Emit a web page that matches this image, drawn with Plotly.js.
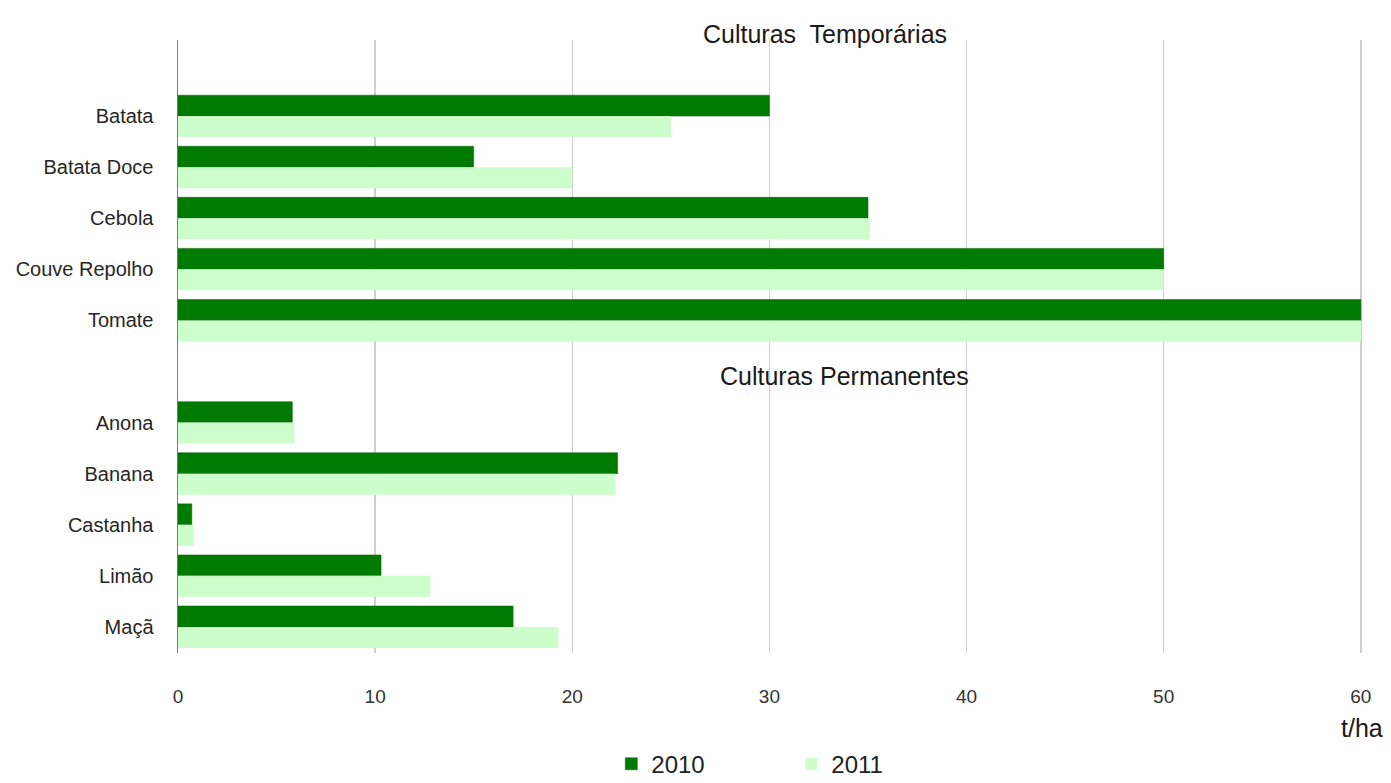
<!DOCTYPE html>
<html>
<head>
<meta charset="utf-8">
<script src="https://cdn.plot.ly/plotly-3.0.1.min.js"></script>
<style>
  html, body { margin: 0; padding: 0; background: #fff; }
  #chart { width: 1391px; height: 783px; }
</style>
</head>
<body>
<div id="chart"></div>
<script>
// Culturas temporárias
const tempCrops = ['Batata', 'Batata Doce', 'Cebola', 'Couve Repolho', 'Tomate'];
const temp2010 = [30, 15, 35, 50, 60];
const temp2011 = [25, 20, 35.1, 50, 60];

// Culturas permanentes
const permCrops = ['Anona', 'Banana', 'Castanha', 'Limão', 'Maçã'];
const perm2010 = [5.8, 22.3, 0.7, 10.3, 17.0];
const perm2011 = [5.9, 22.2, 0.8, 12.8, 19.3];

const spacer = ' ';
const seriesNames = ['2010', '2011'];
const xTicks = [0, 10, 20, 30, 40, 50, 60];

const categories = tempCrops.concat([spacer], permCrops);
const vals2010 = temp2010.concat([null], perm2010);
const vals2011 = temp2011.concat([null], perm2011);

const baseFont = 'Arial, "Liberation Sans", sans-serif';

const traces = [
  {
    type: 'bar', orientation: 'h', name: seriesNames[0],
    y: categories, x: vals2010,
    marker: { color: '#007A00', line: { color: '#006400', width: 0.5 } },
    hoverinfo: 'x+y'
  },
  {
    type: 'bar', orientation: 'h', name: seriesNames[1],
    y: categories, x: vals2011,
    marker: { color: '#CCFFCC', line: { width: 0 } },
    hoverinfo: 'x+y'
  }
];

const layout = {
  width: 1391, height: 783,
  margin: { l: 178, r: 29, t: 40, b: 130, autoexpand: false },
  paper_bgcolor: '#ffffff', plot_bgcolor: '#ffffff',
  barmode: 'group', bargap: 0.18, bargroupgap: 0,
  font: { family: baseFont, color: '#262626' },
  showlegend: true,
  legend: {
    orientation: 'h', xref: 'paper', yref: 'container',
    x: 0.518, xanchor: 'center', y: 0.024, yanchor: 'middle',
    font: { family: baseFont, size: 24, color: '#222' },
    entrywidth: 135, itemwidth: 30, traceorder: 'normal'
  },
  xaxis: {
    range: [0, 60.06], tickvals: xTicks, ticktext: xTicks.map(String),
    showgrid: true, gridcolor: '#cfcfcf', gridwidth: 1.5,
    zeroline: false, showline: false, ticks: '',
    tickfont: { family: baseFont, size: 19, color: '#333' },
    ticklabelstandoff: 30, fixedrange: true, automargin: false
  },
  yaxis: {
    type: 'category', categoryorder: 'array', categoryarray: categories,
    range: [10.51, -1.49], autorange: false,
    showgrid: false, zeroline: false, showline: true, linecolor: '#7a7a7a', linewidth: 1.5,
    ticks: '', ticklabelstandoff: 19,
    tickfont: { family: baseFont, size: 20, color: '#262626' },
    fixedrange: true, automargin: false
  },
  annotations: [
    {
      text: 'Culturas\u00a0 Temporárias', xref: 'paper', yref: 'paper',
      x: 0.5465, y: 1.0098, xanchor: 'center', yanchor: 'middle', showarrow: false,
      font: { family: baseFont, size: 25, color: '#1a1a1a' }
    },
    {
      text: 'Culturas Permanentes', xref: 'paper', yref: 'paper',
      x: 0.5633, y: 0.4519, xanchor: 'center', yanchor: 'middle', showarrow: false,
      font: { family: baseFont, size: 25, color: '#1a1a1a' }
    },
    {
      text: 't/ha', xref: 'paper', yref: 'paper',
      x: 1.0, y: -0.1223, xanchor: 'center', yanchor: 'middle', showarrow: false,
      font: { family: baseFont, size: 25, color: '#1a1a1a' }
    }
  ]
};

Plotly.newPlot('chart', traces, layout, { displayModeBar: false, staticPlot: true });
</script>
</body>
</html>
